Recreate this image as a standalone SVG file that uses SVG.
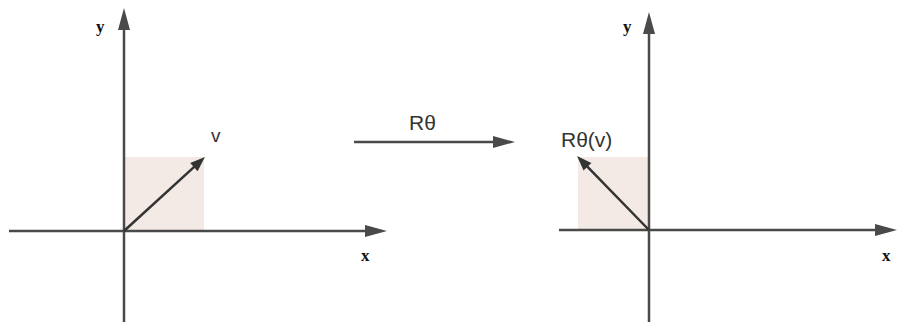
<svg xmlns="http://www.w3.org/2000/svg" width="897" height="324" viewBox="0 0 897 324">
<style>
.axis{stroke:#4a4a4a;stroke-width:2.5;fill:none}
.vec{stroke:#333;stroke-width:2.5;fill:none}
.sq{fill:#f3e9e5}
.ax{font-family:"Liberation Serif",serif;font-weight:bold;font-size:17px;fill:#111}
.lbl{font-family:"Liberation Sans",Arial,sans-serif;font-size:21px;fill:#333}
</style>
<defs>
<marker id="big" markerUnits="userSpaceOnUse" markerWidth="22" markerHeight="12" refX="4" refY="6" orient="auto" overflow="visible"><path d="M0,0 L22,6 L0,12 z" fill="#4a4a4a"/></marker>
<marker id="small" markerUnits="userSpaceOnUse" markerWidth="15" markerHeight="11" refX="3" refY="5.5" orient="auto" overflow="visible"><path d="M0,0 L15,5.5 L0,11 z" fill="#333"/></marker>
</defs>
<rect width="897" height="324" fill="#fff"/>
<g id="left-plot">
<rect class="sq" x="124" y="157" width="80" height="74"/>
<line class="axis" x1="9" y1="231" x2="369" y2="231" marker-end="url(#big)"/>
<line class="axis" x1="124" y1="322" x2="124" y2="26" marker-end="url(#big)"/>
<line class="vec" x1="124" y1="231" x2="196.1" y2="165.1" marker-end="url(#small)"/>
<text class="ax" x="96" y="32">y</text>
<text class="ax" x="361" y="261">x</text>
<text class="lbl" x="211" y="142" style="font-size:19px">v</text>
</g>
<g id="transform">
<line class="axis" x1="354" y1="142" x2="497" y2="142" marker-end="url(#big)"/>
<text class="lbl" x="409" y="130">Rθ</text>
</g>
<g id="right-plot">
<rect class="sq" x="578" y="157" width="71" height="73"/>
<line class="axis" x1="559" y1="230" x2="879" y2="230" marker-end="url(#big)"/>
<line class="axis" x1="649" y1="322" x2="649" y2="30" marker-end="url(#big)"/>
<line class="vec" x1="649" y1="230" x2="585.4" y2="164.6" marker-end="url(#small)"/>
<text class="ax" x="623" y="32">y</text>
<text class="ax" x="882" y="261">x</text>
<text class="lbl" x="561" y="147">Rθ(v)</text>
</g>
</svg>
